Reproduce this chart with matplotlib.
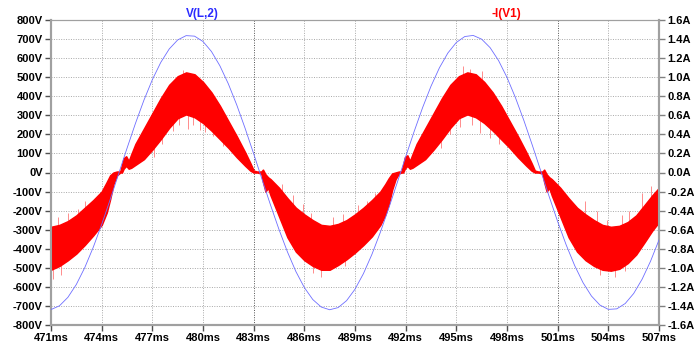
import matplotlib
matplotlib.use("Agg")
import matplotlib.pyplot as plt
import numpy as np

# ---------------- data ----------------
# V(L,2) sampled every 0.5 ms from 471 ms to 507 ms (volts)
v_time = [471.0 + 0.5 * k for k in range(73)]
v_values = [
    -719.0, -699.4, -654.9, -587.3, -498.8, -392.7, -272.6, -142.9, -8.2,
    126.9, 257.4, 378.9, 486.9, 577.6, 648.0, 695.3, 718.0, 715.3, 687.2,
    634.8, 559.8, 465.2, 354.0, 230.2, 98.3, -37.1, -171.1, -299.1, -416.5,
    -519.4, -603.5, -666.4, -705.7, -720.0, -708.7, -672.4, -612.3, -530.4,
    -429.8, -313.9, -187.0, -53.4, 82.1, 214.7, 339.7, 452.6, 549.5, 627.0,
    682.2, 713.3, 719.0, 699.4, 654.9, 587.3, 498.8, 392.7, 272.6, 142.9,
    8.2, -126.9, -257.4, -378.9, -486.9, -577.6, -648.0, -695.3, -718.0,
    -715.3, -687.2, -634.8, -559.8, -465.2, -354.0,
]

# -I(V1): envelope of the fast switching ripple (amps)
i_time = [
    471.0, 471.5, 472.0, 472.5, 473.0, 473.5, 474.0, 474.3, 474.5, 474.7, 474.9, 475.1,
    475.2, 475.3, 475.45, 475.6, 475.75, 476.0, 476.5, 477.0, 477.5, 478.0, 478.5,
    479.0, 479.5, 480.0, 480.5, 481.0, 481.5, 482.0, 482.5, 482.8, 483.0, 483.2, 483.45,
    483.55, 483.7, 483.85, 484.0, 484.5, 485.0, 485.5, 486.0, 486.5, 487.0, 487.5,
    488.0, 488.5, 489.0, 489.5, 490.0, 490.5, 490.8, 491.0, 491.2, 491.4, 491.6, 491.75,
    491.85, 491.95, 492.1, 492.25, 492.4, 492.65, 493.15, 493.65, 494.15, 494.65,
    495.15, 495.65, 496.15, 496.65, 497.15, 497.65, 498.15, 498.65, 499.15, 499.45,
    499.65, 499.85, 500.1,
    500.2, 500.35, 500.5, 500.65, 501.15, 501.65, 502.15, 502.65, 503.15, 503.65,
    504.15, 504.65, 505.15, 505.65, 506.15, 506.6, 507.0,
]
i_upper = [
    -0.57, -0.55, -0.51, -0.45, -0.37, -0.29, -0.20, -0.10, -0.03, 0.00, 0.01, 0.01,
    0.08, 0.15, 0.17, 0.12, 0.19, 0.30, 0.46, 0.62, 0.78, 0.92, 1.01,
    1.05, 1.03, 0.95, 0.84, 0.70, 0.54, 0.38, 0.21, 0.10, 0.02, 0.01, 0.01,
    0.03, -0.02, -0.05, -0.07, -0.16, -0.27, -0.37, -0.44, -0.50, -0.55, -0.56,
    -0.54, -0.50, -0.44, -0.37, -0.29, -0.20, -0.12, -0.06, -0.01, 0.00, 0.01, 0.01,
    0.08, 0.16, 0.18, 0.12, 0.19, 0.30, 0.46, 0.62, 0.78, 0.92,
    1.01, 1.05, 1.03, 0.95, 0.84, 0.70, 0.54, 0.38, 0.21, 0.10,
    0.02, 0.01, 0.01,
    0.03, -0.02, -0.05, -0.07, -0.16, -0.27, -0.37, -0.44, -0.50, -0.55,
    -0.57, -0.56, -0.52, -0.45, -0.34, -0.24, -0.16,
]
i_lower = [
    -1.02, -0.98, -0.92, -0.85, -0.76, -0.66, -0.55, -0.42, -0.28, -0.12, -0.03, 0.00,
    0.00, 0.04, 0.07, 0.04, 0.05, 0.08, 0.14, 0.24, 0.35, 0.47, 0.57,
    0.61, 0.58, 0.52, 0.44, 0.35, 0.26, 0.16, 0.07, 0.02, 0.00, 0.00, -0.01,
    -0.10, -0.20, -0.16, -0.24, -0.46, -0.68, -0.83, -0.92, -0.98, -1.02, -1.02,
    -0.97, -0.91, -0.84, -0.76, -0.67, -0.55, -0.44, -0.33, -0.18, -0.07, -0.01, 0.00,
    0.00, 0.04, 0.07, 0.04, 0.05, 0.08, 0.14, 0.24, 0.35, 0.47,
    0.57, 0.61, 0.58, 0.52, 0.44, 0.35, 0.26, 0.16, 0.07, 0.02,
    0.00, 0.00, -0.01,
    -0.10, -0.20, -0.16, -0.24, -0.46, -0.68, -0.83, -0.92, -0.98, -1.02,
    -1.03, -1.01, -0.95, -0.86, -0.73, -0.61, -0.52,
]

# isolated noise spikes sticking out of the ripple band (time ms, tip amps)
spike_t = [
    471.1, 471.4, 471.6, 472.0, 472.6, 473.0, 477.1, 477.6, 478.2, 478.6, 478.8,
    479.1, 479.4, 479.8, 480.1, 480.6, 481.2, 484.7, 485.3, 485.9, 486.4, 486.5,
    487.0, 487.7, 488.3, 488.4, 489.2, 489.7, 490.2, 494.1, 494.6, 495.2, 495.4,
    495.8, 495.9, 496.4, 496.5, 497.0, 497.5, 502.6, 503.3, 503.5, 503.9, 504.4,
    504.8, 505.0, 505.2, 506.0, 506.5,
]
spike_a = [
    -1.12, -0.47, -1.08, -0.43, -0.38, -0.30, 0.16, 0.30, 0.44, 0.50, 1.08,
    0.46, 0.50, 0.45, 0.42, 0.38, 0.28, -0.12, -0.24, -0.33, -0.42, -1.05,
    -1.10, -0.47, -0.44, -0.98, -0.34, -0.30, -0.22, 0.26, 0.40, 0.48, 1.12,
    1.09, 0.50, 0.41, 1.07, 0.36, 0.30, -0.30, -0.40, -1.08, -0.50, -1.10,
    -0.45, -1.03, -0.40, -0.22, -0.14,
]

x_ticks = [471, 474, 477, 480, 483, 486, 489, 492, 495, 498, 501, 504, 507]
v_ticks = list(range(-800, 801, 100))
i_ticks = [round(-1.6 + 0.2 * k, 1) for k in range(17)]
dark_grid_x = [483, 501]

# ---------------- figure ----------------
plt.rcParams['font.family'] = ['Liberation Sans', 'DejaVu Sans']
fig = plt.figure(figsize=(6.97, 3.48), dpi=100)
rect = [51 / 697, 1 - 325 / 348, (659 - 51) / 697, (325 - 20) / 348]

ax_i = fig.add_axes(rect)               # current axis (bottom layer, with grid)
ax_v = fig.add_axes(rect, sharex=ax_i)  # voltage axis (top layer)
ax_v.set_zorder(ax_i.get_zorder() + 1)
ax_v.patch.set_visible(False)

# current (red)
t_arr = np.array(i_time)
up = np.array(i_upper)
lo = np.array(i_lower)
mid = (np.interp(spike_t, t_arr, up) + np.interp(spike_t, t_arr, lo)) / 2
ax_i.vlines(spike_t, mid, spike_a, color='#ff7a7a', lw=0.6, zorder=2)
ax_i.fill_between(t_arr, lo, up, facecolor='#ff0000', edgecolor='#ff0000',
                  lw=1.1, zorder=3)

# voltage (blue)
ax_v.plot(v_time, v_values, color='#6e6eff', lw=0.6, zorder=4)

# limits / ticks
ax_i.set_xlim(471, 507)
ax_i.set_ylim(-1.6, 1.6)
ax_v.set_ylim(-800, 800)
ax_i.set_xticks(x_ticks)
ax_i.set_yticks(i_ticks)
ax_v.set_yticks(v_ticks)

ax_i.yaxis.tick_right()
ax_i.set_yticklabels([f"{v:.1f}A" for v in i_ticks])
ax_v.yaxis.tick_left()
ax_v.set_yticklabels([f"{v}V" for v in v_ticks])
ax_i.set_xticklabels([f"{v}ms" for v in x_ticks])
ax_v.tick_params(axis='x', which='both', bottom=False, labelbottom=False)

for ax in (ax_i, ax_v):
    ax.tick_params(direction='out', length=4, width=1, color='#505050',
                   labelsize=8, pad=2)
    for lbl in ax.get_xticklabels() + ax.get_yticklabels():
        lbl.set_fontweight('bold')
ax_i.tick_params(axis='y', colors='#808080', labelcolor='black')

# grid (dotted gray), drawn beneath the red band
ax_i.grid(True, color='#a8a8a8', lw=0.7, linestyle=(0, (1, 1.5)), zorder=0)
ax_i.set_axisbelow(True)
for tick_val, gl in zip(x_ticks, ax_i.xaxis.get_gridlines()):
    if tick_val in dark_grid_x:
        gl.set_color('#505050')

# spines
for ax in (ax_i, ax_v):
    for s in ('left', 'right', 'bottom'):
        ax.spines[s].set_color('#a0a0a0')
        ax.spines[s].set_linewidth(1.5)
    ax.spines['top'].set_color('#a0a0a0')
    ax.spines['top'].set_linewidth(0.8)

# trace titles
fig.text(202 / 697, 1 - 13.5 / 348, "V(L,2)", color='#2a2aff', fontsize=8.5,
         fontweight='bold', ha='center', va='center')
fig.text(506 / 697, 1 - 13.5 / 348, "-I(V1)", color='#ff0000', fontsize=8.5,
         fontweight='bold', ha='center', va='center')

fig.savefig("out.png", dpi=100, facecolor='white')
